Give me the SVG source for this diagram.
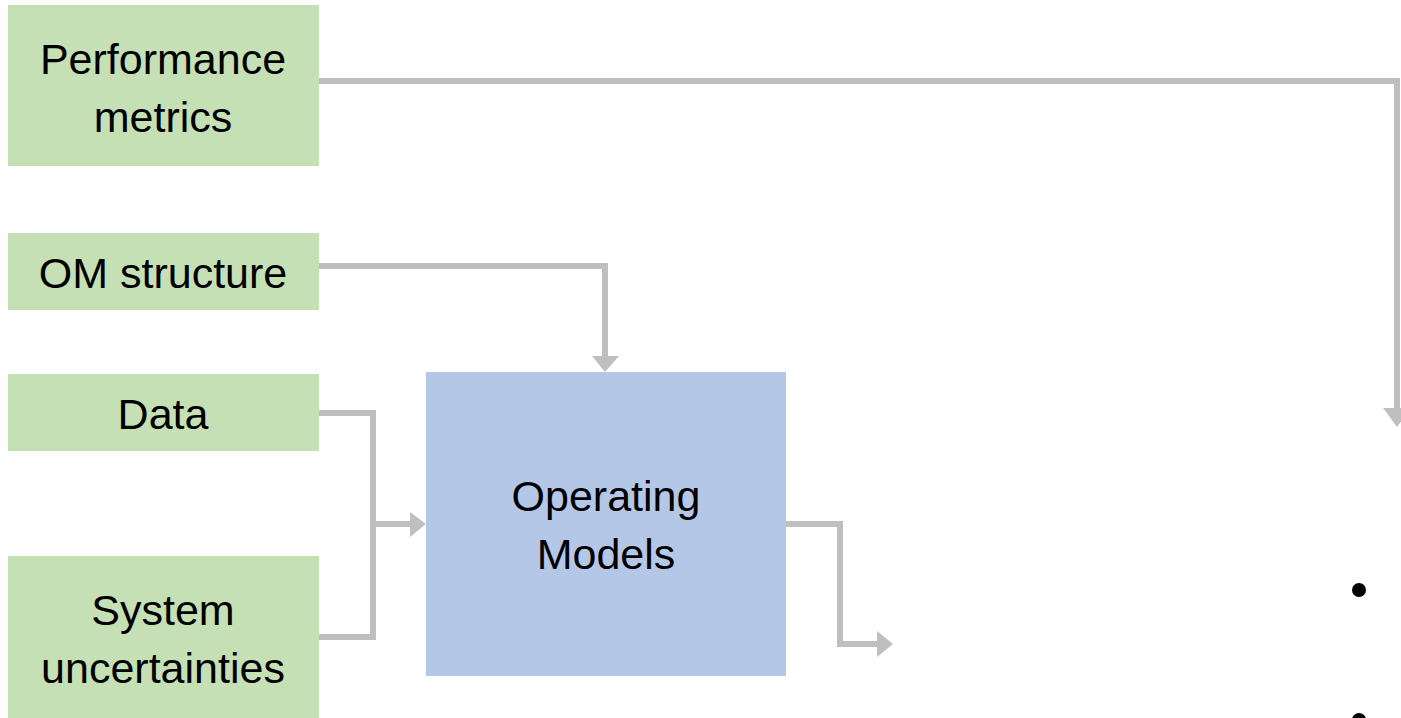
<svg xmlns="http://www.w3.org/2000/svg" width="1401" height="718" viewBox="0 0 1401 718">
<style>
.g{fill:#c5e0b4}
.b{fill:#b4c7e7}
.t{font-family:"Liberation Sans",Arial,sans-serif;font-size:43px;fill:#000;text-anchor:middle}
.c{fill:none;stroke:#bfbfbf;stroke-width:6}
.h{fill:#bfbfbf}
</style>
<rect width="1401" height="718" fill="#fff"/>
<g id="connectors">
<polyline class="c" points="319,81 1397,81 1397,410"/>
<polygon class="h" points="1383,408 1411,408 1397,427"/>
<polyline class="c" points="319,266 605,266 605,358"/>
<polygon class="h" points="592,356 619,356 605,372"/>
<polyline class="c" points="319,413 373,413 373,637 319,637"/>
<polyline class="c" points="373,524 412,524"/>
<polygon class="h" points="410,512 426,524 410,537"/>
<polyline class="c" points="786,524 840,524 840,644 879,644"/>
<polygon class="h" points="877,631 893,644 877,657"/>
</g>
<g id="performance-metrics">
<rect class="g" x="8" y="5" width="311" height="161"/>
<text class="t" x="163" y="74">Performance</text>
<text class="t" x="163" y="132">metrics</text>
</g>
<g id="om-structure">
<rect class="g" x="8" y="233" width="311" height="77"/>
<text class="t" x="163" y="288">OM structure</text>
</g>
<g id="data">
<rect class="g" x="8" y="374" width="311" height="77"/>
<text class="t" x="163" y="429">Data</text>
</g>
<g id="system-uncertainties">
<rect class="g" x="8" y="556" width="311" height="162"/>
<text class="t" x="163" y="625">System</text>
<text class="t" x="163" y="683">uncertainties</text>
</g>
<g id="operating-models">
<rect class="b" x="426" y="372" width="360" height="304"/>
<text class="t" x="606" y="511">Operating</text>
<text class="t" x="606" y="569">Models</text>
</g>
<g id="bullets">
<circle cx="1359" cy="590" r="7" fill="#000"/>
<circle cx="1359" cy="720" r="7" fill="#000"/>
</g>
</svg>
